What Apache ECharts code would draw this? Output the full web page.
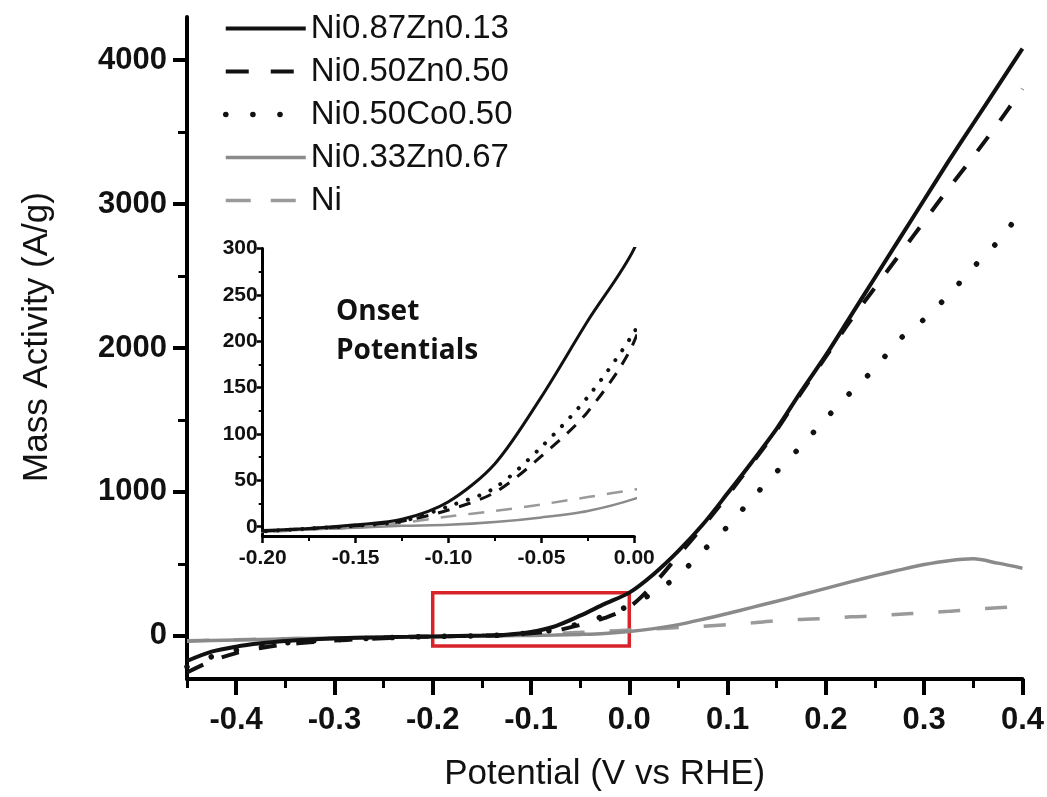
<!DOCTYPE html>
<html>
<head>
<meta charset="utf-8">
<script src="https://cdn.jsdelivr.net/npm/echarts@6/dist/echarts.min.js"></script>
<style>html,body{margin:0;padding:0;background:#fff}#c{width:1047px;height:797px}</style>
</head>
<body>
<div id="c"></div>
<script>
// Potential (V vs RHE)
const potential = [-0.45,-0.425,-0.4,-0.375,-0.35,-0.325,-0.3,-0.275,-0.25,-0.225,-0.2,-0.175,-0.15,-0.125,-0.1,-0.075,-0.05,-0.025,0,0.025,0.05,0.075,0.1,0.125,0.15,0.175,0.2,0.225,0.25,0.275,0.3,0.325,0.35,0.375,0.4];
// Mass activity (A/g)
const ni87zn13 = [-175,-110,-75,-52,-36,-25,-18,-13,-10,-7,-4,-2,2,8,27,68,140,222,300,430,590,775,990,1210,1440,1700,1950,2220,2490,2760,3030,3300,3560,3820,4080];
const ni50zn50 = [-255,-175,-120,-85,-60,-45,-33,-24,-17,-10,-5,-2,1,6,18,37,76,124,200,360,560,760,975,1200,1430,1690,1940,2190,2420,2650,2880,3110,3330,3560,3800];
const ni50co50 = [-215,-145,-100,-70,-50,-36,-27,-20,-14,-9,-5,-2,1,6,22,42,86,140,210,300,420,590,760,955,1140,1320,1510,1690,1860,2060,2200,2370,2560,2740,2960];
const ni33zn67 = [-37,-33,-29,-25,-21,-18,-15,-12,-10,-7,-5,-3,-1,1,2,5,10,17,30,50,78,115,155,198,240,285,330,375,418,458,495,522,535,505,470];
const niOnly   = [-35,-31,-27,-23,-20,-17,-14,-12,-9,-7,-6,-3,-1,4,11,17,24,32,40,48,57,66,78,90,105,114,120,132,138,150,160,170,184,195,205];

const seriesNames = ['Ni0.87Zn0.13','Ni0.50Zn0.50','Ni0.50Co0.50','Ni0.33Zn0.67','Ni'];
const seriesValues = [ni87zn13, ni50zn50, ni50co50, ni33zn67, niOnly];

// main axes ticks
const mainXLabels = [-0.4,-0.3,-0.2,-0.1,0,0.1,0.2,0.3,0.4];
const mainXMinor = [-0.45,-0.35,-0.25,-0.15,-0.05,0.05,0.15,0.25,0.35];
const mainYLabels = [0,1000,2000,3000,4000];
const mainYMinor = [500,1500,2500,3500];
// inset axes ticks
const insetYLabels = [0,50,100,150,200,250,300];
const insetYMinor = [25,75,125,175,225,275];
// zoom window marked on the main plot
const zoomBoxX = [-0.2, 0];
const zoomBoxY = [-70, 300];

const styles = [
  {color:'#111', type:'solid', w:4, iw:3, itype:'solid', ltype:'solid', cap:'butt'},
  {color:'#111', type:[18,20], w:4, iw:3, itype:[12,10], ltype:[23,22], cap:'butt'},
  {color:'#111', type:[0.1,26], w:5.5, iw:4, itype:[0.1,12], ltype:[0.1,27], cap:'round'},
  {color:'#8a8a8a', type:'solid', w:3.5, iw:2.5, itype:'solid', ltype:'solid', cap:'butt'},
  {color:'#9a9a9a', type:[22,25], w:3.5, iw:2.5, itype:[16,12], ltype:[25,20], cap:'butt'}
];

const pairs = ys => potential.map((x,i)=>[x, ys[i]]);
const series = [];
seriesValues.forEach((ys, i) => {
  const s = styles[i];
  const main = {
    name: seriesNames[i], type:'line', xAxisIndex:0, yAxisIndex:0,
    data: pairs(ys), showSymbol:false, symbol:'none', smooth:0.3,
    lineStyle:{color:s.color, width:s.w, type:s.type, cap:s.cap}, itemStyle:{color:s.color},
    z: 5 - i
  };
  if (i === 0) {
    main.markArea = {
      silent:true,
      itemStyle:{color:'rgba(0,0,0,0)', borderColor:'#d8232a', borderWidth:3.5},
      label:{show:false},
      data:[[{coord:[zoomBoxX[0], zoomBoxY[1]]},{coord:[zoomBoxX[1], zoomBoxY[0]]}]]
    };
  }
  series.push(main);
  series.push({
    name: seriesNames[i], type:'line', xAxisIndex:2, yAxisIndex:2,
    data: pairs(ys), showSymbol:false, symbol:'none', smooth:0.3,
    lineStyle:{color:s.color, width:s.iw, type:s.itype, cap:s.cap}, itemStyle:{color:s.color},
    clip:true, z: 5 - i
  });
});

const F = 'Liberation Sans';
const axisBlack = {show:true, onZero:false, lineStyle:{color:'#000', width:4}};

const option = {
  animation:false,
  backgroundColor:'#fff',
  textStyle:{fontFamily:F, color:'#000'},
  title:{
    text:'Onset\nPotentials', left:331, top:288,
    textStyle:{fontFamily:'Open Sans', fontWeight:'bold', fontSize:28, lineHeight:39, color:'#111'}
  },
  legend:{
    data:seriesNames.map((n,i)=>({name:n, itemStyle:{color:'rgba(0,0,0,0)', borderWidth:0, opacity:0},
      lineStyle:{color:styles[i].color, width:styles[i].w, type:styles[i].ltype, cap:styles[i].cap}})),
    orient:'vertical', left:218, top:7,
    itemWidth:80, itemHeight:14, itemGap:10, itemTextGap:3,
    textStyle:{fontFamily:F, fontSize:33, lineHeight:33, color:'#111'}
  },
  grid:[
    {left:187, top:17, width:835.7, height:669},
    {left:262.7, top:248.4, width:371.6, height:287.6}
  ],
  xAxis:[
    {gridIndex:0, type:'value', position:'bottom', min:-0.45, max:0.4,
     axisLine:axisBlack, splitLine:{show:false},
     axisTick:{show:true, customValues:mainXLabels, length:16, lineStyle:{color:'#000', width:4}},
     axisLabel:{customValues:mainXLabels, fontFamily:F, fontWeight:'bold', fontSize:31, color:'#111', margin:26,
       formatter:v=>v.toFixed(1)},
     name:'Potential (V vs RHE)', nameLocation:'middle', nameGap:78,
     nameTextStyle:{fontFamily:F, fontSize:35, color:'#111'}},
    {gridIndex:0, type:'value', position:'bottom', min:-0.45, max:0.4,
     axisLine:{show:false, onZero:false}, splitLine:{show:false}, axisLabel:{show:false},
     axisTick:{show:true, customValues:mainXMinor, length:9, lineStyle:{color:'#000', width:3}}},
    {gridIndex:1, type:'value', position:'bottom', min:-0.2, max:0, interval:0.05,
     axisLine:{show:true, onZero:false, lineStyle:{color:'#000', width:3}}, splitLine:{show:false},
     axisTick:{show:true, length:7, lineStyle:{color:'#000', width:2.5}},
     minorTick:{show:true, splitNumber:2, length:5, lineStyle:{color:'#000', width:2}},
     axisLabel:{fontFamily:F, fontWeight:'bold', fontSize:21, color:'#111', margin:12,
       formatter:v=>v.toFixed(2)}}
  ],
  yAxis:[
    {gridIndex:0, type:'value', position:'left', min:-300, max:4300,
     axisLine:axisBlack, splitLine:{show:false},
     axisTick:{show:true, customValues:mainYLabels, length:14, lineStyle:{color:'#000', width:4}},
     axisLabel:{customValues:mainYLabels, fontFamily:F, fontWeight:'bold', fontSize:31, color:'#111', margin:20,
       formatter:v=>String(v)},
     name:'Mass Activity (A/g)', nameLocation:'middle', nameGap:132,
     nameTextStyle:{fontFamily:F, fontSize:35, color:'#111', padding:[0,0,0,22]}},
    {gridIndex:0, type:'value', position:'left', min:-300, max:4300,
     axisLine:{show:false, onZero:false}, splitLine:{show:false}, axisLabel:{show:false},
     axisTick:{show:true, customValues:mainYMinor, length:9, lineStyle:{color:'#000', width:3}}},
    {gridIndex:1, type:'value', position:'left', min:-10, max:300,
     axisLine:{show:true, onZero:false, lineStyle:{color:'#000', width:3}}, splitLine:{show:false},
     axisTick:{show:true, customValues:insetYLabels, length:6, lineStyle:{color:'#000', width:2.5}},
     axisLabel:{customValues:insetYLabels, fontFamily:F, fontWeight:'bold', fontSize:21, color:'#111', margin:5,
       formatter:v=>String(v)}},
    {gridIndex:1, type:'value', position:'left', min:-10, max:300,
     axisLine:{show:false, onZero:false}, splitLine:{show:false}, axisLabel:{show:false},
     axisTick:{show:true, customValues:insetYMinor, length:4, lineStyle:{color:'#000', width:2}}}
  ],
  series: series
};

const chart = echarts.init(document.getElementById('c'), null, {renderer:'canvas'});
chart.setOption(option);
</script>
</body>
</html>
